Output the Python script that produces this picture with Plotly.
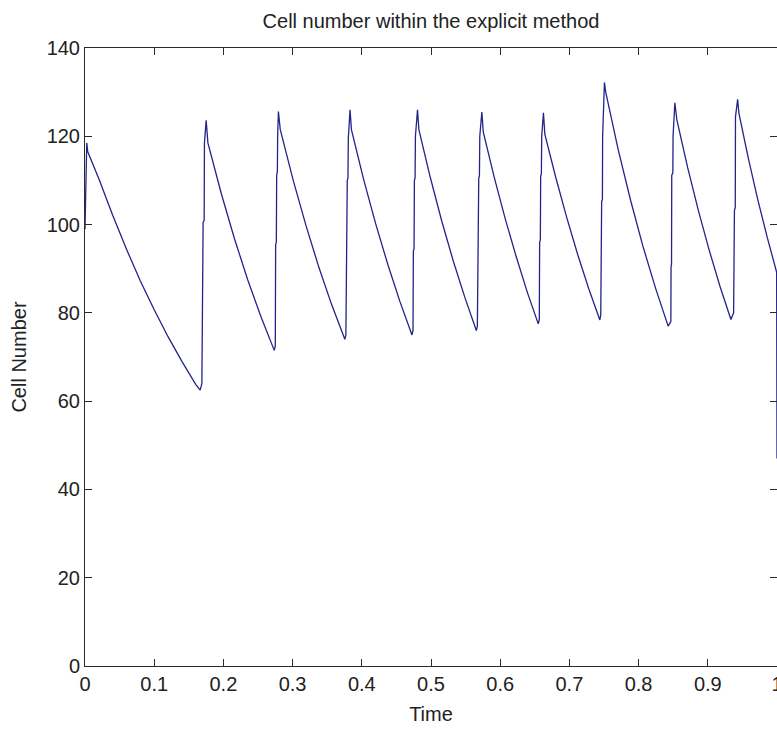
import plotly.graph_objects as go

# Time samples (staircase rises + decaying segments)
time = [
    0.0, 0.001, 0.0025, 0.004,
    0.02, 0.04, 0.06, 0.08, 0.10, 0.12, 0.14, 0.16,
    0.1664, 0.1689, 0.1693, 0.1703, 0.1707, 0.1722, 0.1726, 0.1751, 0.1776,
    0.1968, 0.2160, 0.2351, 0.2543,
    0.2735, 0.2750, 0.2755, 0.2765, 0.2770, 0.2780, 0.2784, 0.2795, 0.2822,
    0.3009, 0.3195, 0.3382, 0.3568,
    0.3755, 0.3770, 0.3775, 0.3785, 0.3790, 0.3800, 0.3805, 0.3830, 0.3850,
    0.4025, 0.4200, 0.4375, 0.4550,
    0.4725, 0.4740, 0.4745, 0.4755, 0.4760, 0.4770, 0.4775, 0.4805, 0.4825,
    0.4991, 0.5157, 0.5323, 0.5489,
    0.5655, 0.5670, 0.5675, 0.5685, 0.5690, 0.5700, 0.5705, 0.5735, 0.5755,
    0.5914, 0.6073, 0.6232, 0.6391,
    0.6550, 0.6565, 0.6570, 0.6580, 0.6585, 0.6595, 0.6600, 0.6625, 0.6645,
    0.6804, 0.6963, 0.7122, 0.7281,
    0.7440, 0.7453, 0.7456, 0.7463, 0.7466, 0.7477, 0.7480, 0.7506, 0.7525,
    0.7705, 0.7886, 0.8066, 0.8247,
    0.8427, 0.8466, 0.8469, 0.8476, 0.8479, 0.8495, 0.8498, 0.8524, 0.8553,
    0.8709, 0.8865, 0.9022, 0.9178,
    0.9334, 0.9373, 0.9376, 0.9382, 0.9385, 0.9397, 0.9400, 0.9431, 0.9450,
    0.9586, 0.9723, 0.9859, 0.9995, 1.0,
]

cell_number = [
    99.0, 111.0, 118.5, 116.5,
    110.4, 102.1, 94.4, 87.2, 80.7, 74.6, 69.0, 63.8,
    62.5, 64.0, 84.5, 85.0, 100.5, 101.0, 118.5, 123.6, 118.5,
    107.1, 96.8, 87.5, 79.1,
    71.5, 72.5, 95.4, 96.0, 111.2, 112.0, 120.0, 125.6, 121.5,
    110.0, 99.7, 90.2, 81.7,
    74.0, 75.0, 93.0, 93.5, 110.0, 110.5, 119.5, 126.0, 121.5,
    110.3, 100.2, 91.0, 82.6,
    75.0, 76.0, 94.0, 94.5, 110.0, 110.5, 120.0, 126.0, 121.5,
    110.6, 100.7, 91.7, 83.5,
    76.0, 77.0, 95.0, 95.5, 110.5, 111.0, 120.0, 125.5, 121.0,
    110.7, 101.3, 92.7, 84.7,
    77.5, 78.5, 96.0, 96.5, 111.0, 111.5, 120.0, 125.3, 120.5,
    110.6, 101.5, 93.1, 85.4,
    78.4, 79.5, 86.0, 86.5, 105.2, 105.7, 119.9, 132.2, 130.0,
    117.0, 105.4, 94.9, 85.5,
    77.0, 78.0, 90.5, 91.0, 111.2, 111.7, 120.0, 127.6, 123.7,
    112.9, 103.1, 94.1, 85.9,
    78.5, 80.0, 91.6, 92.0, 103.3, 103.8, 124.4, 128.4, 125.2,
    115.0, 105.6, 97.1, 89.2, 47.0,
]

x_ticks = [0, 0.1, 0.2, 0.3, 0.4, 0.5, 0.6, 0.7, 0.8, 0.9, 1]
x_tick_labels = ["0", "0.1", "0.2", "0.3", "0.4", "0.5", "0.6", "0.7", "0.8", "0.9", "1"]
y_ticks = [0, 20, 40, 60, 80, 100, 120, 140]
y_tick_labels = ["0", "20", "40", "60", "80", "100", "120", "140"]

FONT = "Liberation Sans, Arial, Helvetica, sans-serif"
FIG_W, FIG_H = 777, 731

fig = go.Figure()
fig.add_trace(go.Scatter(
    x=time, y=cell_number, mode="lines",
    line=dict(color="#23238a", width=1.3),
    showlegend=False, hoverinfo="skip",
))

axis_common = dict(
    showgrid=False, zeroline=False,
    showline=True, linecolor="#2b2b2b", linewidth=1,
    mirror="ticks", ticks="inside", ticklen=7, tickcolor="#2b2b2b", tickwidth=1,
    tickfont=dict(family=FONT, size=20, color="#222222"),
    automargin=False, ticklabeloverflow="allow",
)

fig.update_layout(
    width=FIG_W, height=FIG_H,
    margin=dict(l=85, r=0, t=48, b=65),
    paper_bgcolor="white", plot_bgcolor="white",
    title=dict(text="Cell number within the explicit method",
               x=0.5, xanchor="center", xref="paper",
               y=1 - 21 / FIG_H, yanchor="middle",
               font=dict(family=FONT, size=20, color="#222222")),
    xaxis=dict(range=[0, 1], tickvals=x_ticks, ticktext=x_tick_labels,
               title=dict(text="Time", standoff=12,
                          font=dict(family=FONT, size=20, color="#222222")),
               **axis_common),
    yaxis=dict(range=[0, 140], tickvals=y_ticks, ticktext=y_tick_labels,
               title=dict(text="Cell Number", standoff=14,
                          font=dict(family=FONT, size=20, color="#222222")),
               **axis_common),
)

fig.write_html(
    "out.html",
    config={"displayModeBar": False, "staticPlot": True},
    post_script="document.body.style.margin='0';document.body.style.overflow='hidden';",
)
